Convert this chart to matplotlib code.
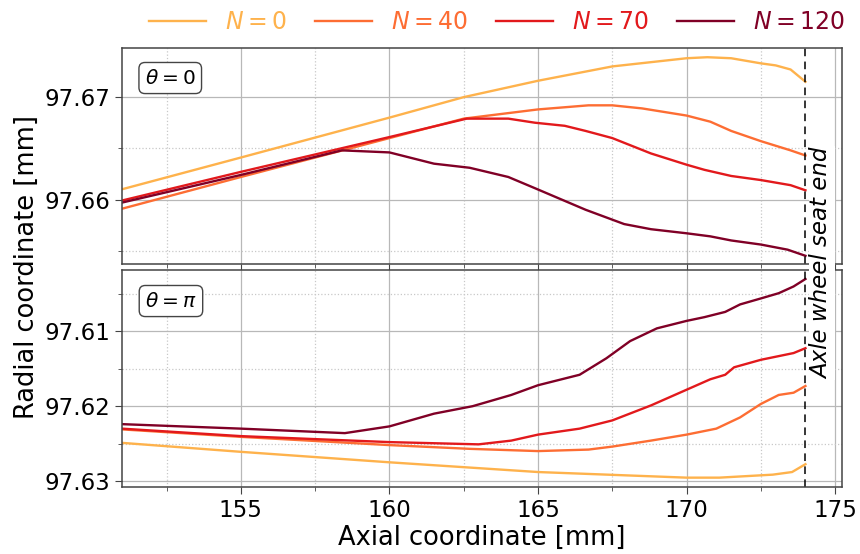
import matplotlib
matplotlib.use("Agg")
import matplotlib.pyplot as plt
from matplotlib.ticker import MultipleLocator

# ---------------- data ----------------
labels = [r"$N = 0$", r"$N = 40$", r"$N = 70$", r"$N = 120$"]
colors = ["#feb24c", "#fd6d33", "#e2191c", "#800026"]

# theta = 0 (top panel)
top_x0 = [151, 155, 160, 162.5, 165, 167.5, 170, 170.7, 171.5, 172.5, 173, 173.5, 174]
top_y0 = [97.6610, 97.6641, 97.6680, 97.6700, 97.6716, 97.6730, 97.6738, 97.6739,
          97.6738, 97.6733, 97.6731, 97.6727, 97.6715]
top_x40 = [151, 155, 160, 162.5, 165, 166.7, 167.5, 168.5, 170, 170.8, 171.5, 172.5, 173.5, 174]
top_y40 = [97.6591, 97.6622, 97.6660, 97.6679, 97.6688, 97.6692, 97.6692, 97.6689,
           97.6682, 97.6676, 97.6667, 97.6657, 97.6648, 97.6643]
top_x70 = [151, 155, 160, 162.6, 164.0, 164.9, 165.9, 166.6, 167.5, 168.8, 170, 170.6,
           171.5, 172.5, 173.5, 174]
top_y70 = [97.6599, 97.6627, 97.6661, 97.6679, 97.6679, 97.6675, 97.6672, 97.6667,
           97.6660, 97.6645, 97.6634, 97.6629, 97.6623, 97.6619, 97.6614, 97.6609]
top_x120 = [151, 155, 158.4, 160, 161.5, 162.7, 164, 164.9, 166.6, 167.9, 168.8, 170,
            170.8, 171.5, 172.5, 173.4, 174]
top_y120 = [97.6597, 97.6624, 97.6648, 97.6646, 97.6635, 97.6631, 97.6622, 97.6611,
            97.6590, 97.6576, 97.6571, 97.6567, 97.6564, 97.6560, 97.6556, 97.6551, 97.6545]

# theta = pi (bottom panel)
bot_x0 = [151, 155, 160, 165, 170, 171.1, 172.9, 173.55, 174]
bot_y0 = [97.6249, 97.6261, 97.6275, 97.6288, 97.62955, 97.62955, 97.62915, 97.6288, 97.62775]
bot_x40 = [151, 155, 160, 162.7, 165, 166.7, 167.5, 168.8, 170, 171, 171.8, 172.5,
           173.1, 173.6, 174]
bot_y40 = [97.6231, 97.6241, 97.6252, 97.6257, 97.6260, 97.6258, 97.6254, 97.6246,
           97.6238, 97.6230, 97.6215, 97.6197, 97.6185, 97.6182, 97.6173]
bot_x70 = [151, 155, 160, 163, 164.1, 165, 166.4, 167.5, 168.8, 170, 170.8, 171.3,
           171.6, 172.5, 173.6, 174]
bot_y70 = [97.6230, 97.6240, 97.6248, 97.6251, 97.6246, 97.6238, 97.6230, 97.6219,
           97.6199, 97.6178, 97.6164, 97.6158, 97.6148, 97.6138, 97.6129, 97.61225]
bot_x120 = [151, 155, 158.5, 160, 161.5, 162.8, 164.1, 165, 166.4, 167.3, 168.1, 169.0,
            170, 170.6, 171.3, 171.8, 172.5, 173.1, 173.6, 174]
bot_y120 = [97.6224, 97.6230, 97.6236, 97.6227, 97.6210, 97.6200, 97.6185, 97.6172,
            97.6158, 97.6136, 97.6113, 97.6096, 97.6086, 97.6081, 97.6074, 97.6064,
            97.6056, 97.6049, 97.6040, 97.6030]

seat_end = 174
xlim = (151, 175.23)
top_ylim = (97.6537, 97.6748)
bot_ylim = (97.6308, 97.6018)

top_series = [(top_x0, top_y0), (top_x40, top_y40), (top_x70, top_y70), (top_x120, top_y120)]
bot_series = [(bot_x0, bot_y0), (bot_x40, bot_y40), (bot_x70, bot_y70), (bot_x120, bot_y120)]

# ---------------- figure ----------------
fig = plt.figure(figsize=(8.6, 5.54), dpi=100)
L, R = 122 / 860, 842 / 860
ax1 = fig.add_axes([L, 1 - 264 / 554, R - L, (264 - 48) / 554])
ax2 = fig.add_axes([L, 1 - 487 / 554, R - L, (487 - 270) / 554], sharex=ax1)

for ax, series in ((ax1, top_series), (ax2, bot_series)):
    for (x, y), c, lab in zip(series, colors, labels):
        ax.plot(x, y, color=c, lw=1.7, label=lab)
    ax.axvline(seat_end, color="black", ls=(0, (5, 3.5)), lw=1.1)
    ax.xaxis.set_major_locator(MultipleLocator(5))
    ax.xaxis.set_minor_locator(MultipleLocator(2.5))
    ax.yaxis.set_major_locator(MultipleLocator(0.01))
    ax.yaxis.set_minor_locator(MultipleLocator(0.005))
    ax.grid(which="major", color="#b8b8b8", lw=0.9)
    ax.grid(which="minor", color="#c8c8c8", lw=0.9, ls=":")
    ax.tick_params(which="major", labelsize=16.5, length=5, color="#444444")
    ax.tick_params(which="minor", length=3, color="#444444")
    for s in ax.spines.values():
        s.set_color("#444444")
        s.set_linewidth(1.1)
    ax.set_axisbelow(True)

ax1.set_xlim(*xlim)
ax1.set_ylim(*top_ylim)
ax2.set_ylim(*bot_ylim)
ax1.tick_params(labelbottom=False)

bbox_kw = dict(boxstyle="round,pad=0.3", fc="white", ec="#444444", lw=1.0)
ax1.text(0.067, 0.861, r"$\theta = 0$", transform=ax1.transAxes, fontsize=14.5,
         ha="center", va="center", bbox=bbox_kw)
ax2.text(0.068, 0.857, r"$\theta = \pi$", transform=ax2.transAxes, fontsize=14.5,
         ha="center", va="center", bbox=bbox_kw)

fig.text(482 / 860, 1 - 538 / 554, "Axial coordinate [mm]", fontsize=18.5,
         ha="center", va="center")
fig.text(27 / 860, 1 - 267 / 554, "Radial coordinate [mm]", rotation=90, fontsize=18.5,
         ha="center", va="center")

fig.text(822 / 860, 1 - 263 / 554, "Axle wheel seat end", rotation=90, fontsize=16.5,
         style="italic", ha="center", va="center",
         bbox=dict(boxstyle="square,pad=0.05", fc="white", ec="none"))

handles, labs = ax1.get_legend_handles_labels()
fig.legend(handles, labs, loc="center", bbox_to_anchor=(0.578, 1 - 22 / 554), ncol=4,
           frameon=False, fontsize=17, labelcolor="linecolor", handlelength=2.4,
           columnspacing=1.2, handletextpad=0.8)

fig.savefig("out.png", dpi=100)
